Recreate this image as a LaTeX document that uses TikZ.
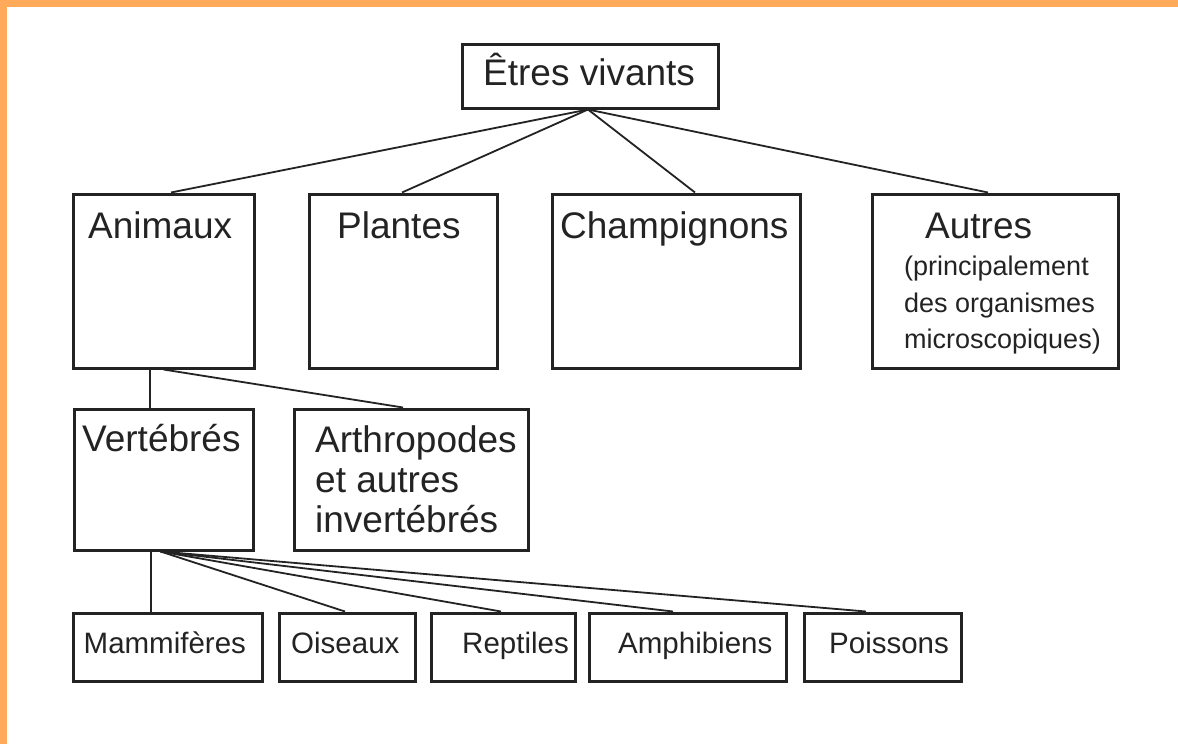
\documentclass[tikz,border=0pt]{standalone}
\usepackage{fontspec}
\setmainfont{Liberation Sans}
\definecolor{frameorange}{RGB}{255,170,90}
\definecolor{ink}{RGB}{35,35,35}
\begin{document}
\begin{tikzpicture}[x=1pt,y=-1pt,
  box/.style={draw=ink, line width=3pt, rectangle, inner sep=0pt, fill=white},
  link/.style={draw=ink, line width=1.8pt},
  big/.style={anchor=base west, inner sep=0pt, text=ink, font=\fontsize{37}{40}\selectfont},
  small/.style={anchor=base west, inner sep=0pt, text=ink, font=\fontsize{29.5}{32}\selectfont},
  tiny/.style={anchor=base west, inner sep=0pt, text=ink, font=\fontsize{27}{30}\selectfont}]
\useasboundingbox (0,0) rectangle (1178,744);
\fill[white] (0,0) rectangle (1178,744);
\fill[frameorange] (0,0) rectangle (1178,7);
\fill[frameorange] (0,0) rectangle (7,744);

% boxes
\node[box, minimum width=256pt, minimum height=64pt] (etres) at (590,76) {};
\node[box, minimum width=181pt, minimum height=174pt] (anim) at (163.5,281) {};
\node[box, minimum width=188pt, minimum height=174pt] (plant) at (403,281) {};
\node[box, minimum width=248pt, minimum height=174pt] (champ) at (676,281) {};
\node[box, minimum width=246pt, minimum height=174pt] (autres) at (995,281) {};
\node[box, minimum width=179pt, minimum height=141pt] (vert) at (163.5,479.5) {};
\node[box, minimum width=234pt, minimum height=141pt] (arth) at (411,479.5) {};
\node[box, minimum width=188.5pt, minimum height=68pt] (mam) at (167.75,647) {};
\node[box, minimum width=136pt, minimum height=68pt] (ois) at (347,647) {};
\node[box, minimum width=144pt, minimum height=68pt] (rep) at (503,647) {};
\node[box, minimum width=197pt, minimum height=68pt] (amph) at (687.5,647) {};
\node[box, minimum width=157pt, minimum height=68pt] (poiss) at (882.5,647) {};

% connectors
\draw[link] ([xshift=-2pt]etres.south) -- ([xshift=7.5pt]anim.north);
\draw[link] ([xshift=-2pt]etres.south) -- ([xshift=-1pt]plant.north);
\draw[link] ([xshift=-2pt]etres.south) -- ([xshift=19pt]champ.north);
\draw[link] ([xshift=-2pt]etres.south) -- ([xshift=-7pt]autres.north);
\draw[link] ([xshift=-13.5pt]anim.south) -- ([xshift=-13.5pt]vert.north);
\draw[link] (anim.south) -- ([xshift=-8pt]arth.north);
\draw[link] ([xshift=-12.5pt]vert.south) -- ([xshift=-16.75pt]mam.north);
\draw[link] ([xshift=-3pt]vert.south) -- ([xshift=-2pt]ois.north);
\draw[link] ([xshift=-3pt]vert.south) -- ([xshift=-2pt]rep.north);
\draw[link] ([xshift=-3pt]vert.south) -- ([xshift=-14.5pt]amph.north);
\draw[link] ([xshift=-3pt]vert.south) -- ([xshift=-16.5pt]poiss.north);

% texts
\node[big] (etres-t) at (483,85) {Êtres vivants};
\node[big] (anim-t) at (88,238) {Animaux};
\node[big] (plant-t) at (337,238) {Plantes};
\node[big] (champ-t) at (560,238) {Champignons};
\node[big] (autres-t) at (925,238) {Autres};
\node[tiny] (autres-t1) at (904,275) {(principalement};
\node[tiny] (autres-t2) at (904,312) {des organismes};
\node[tiny] (autres-t3) at (904,348) {microscopiques)};
\node[big] (vert-t) at (82,451) {Vertébrés};
\node[big] (arth-t1) at (315,452) {Arthropodes};
\node[big] (arth-t2) at (315,492) {et autres};
\node[big] (arth-t3) at (315,532) {invertébrés};
\node[small] (mam-t) at (83.5,653) {Mammifères};
\node[small] (ois-t) at (291,653) {Oiseaux};
\node[small] (rep-t) at (462,653) {Reptiles};
\node[small] (amph-t) at (618,653) {Amphibiens};
\node[small] (poiss-t) at (829,653) {Poissons};
\end{tikzpicture}
\end{document}
